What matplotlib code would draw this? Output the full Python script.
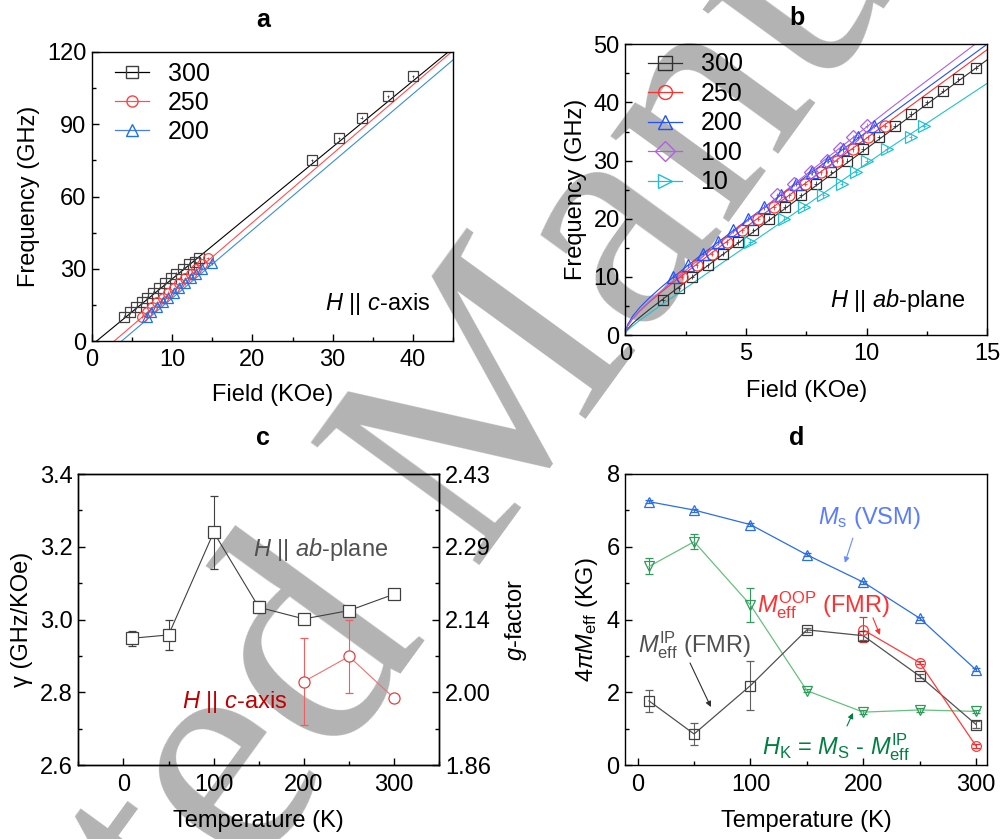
import matplotlib
matplotlib.use('Agg')
import matplotlib.pyplot as plt
from matplotlib.ticker import MultipleLocator

plt.rcParams['font.family'] = ['Liberation Sans', 'DejaVu Sans']
plt.rcParams['mathtext.fontset'] = 'custom'
plt.rcParams['mathtext.rm'] = 'Liberation Sans'
plt.rcParams['mathtext.it'] = 'Liberation Sans:italic'
plt.rcParams['mathtext.bf'] = 'Liberation Sans:bold'
plt.rcParams['axes.linewidth'] = 1.0

# ---- panel a : H || c-axis, f vs H ----
a_labels = ['300', '250', '200']
a_x300 = [4.0, 4.7, 5.5, 6.2, 6.9, 7.6, 8.4, 9.1, 9.8, 10.5, 11.3, 12.1, 12.9, 13.4, 27.4, 30.8, 33.6, 36.9, 40.0]
a_y300 = [10, 12, 14, 16, 18, 20, 22, 24, 26, 28, 30, 32, 33, 34.3, 75.1, 84.1, 92.8, 101.6, 109.9]
a_x250 = [6.2, 6.9, 7.5, 8.1, 8.8, 9.5, 10.2, 10.9, 11.6, 12.3, 13.0, 13.7, 14.4]
a_y250 = [10, 12, 14, 16, 18, 20, 22, 24, 26, 28, 30, 32, 34.3]
a_x200 = [6.8, 7.4, 8.1, 8.8, 9.5, 10.2, 10.9, 11.6, 12.3, 13.0, 13.7, 14.9]
a_y200 = [10, 12, 14, 16, 18, 20, 22, 24, 26, 28, 30, 32.2]
a_fitx = [[0.58, 44.4], [2.78, 44.8], [3.7, 45.0]]
a_fity = [[0, 120], [0, 120], [0, 116.7]]

# ---- panel b : H || ab-plane ----
b_labels = ['300', '250', '200', '100', '10']
b_x300 = [1.57, 2.21, 2.78, 3.41, 4.03, 4.67, 5.30, 5.97, 6.62, 7.27, 7.90, 8.54, 9.20, 9.83, 10.5, 11.17, 11.84, 12.49, 13.15, 13.80, 14.53]
b_y300 = [6, 8, 10, 12, 14, 16, 18, 20, 22, 24, 26, 28, 30, 32, 34, 36, 38, 40, 42, 44, 46]
b_x250 = [2.33, 2.96, 3.58, 4.20, 4.85, 5.51, 6.16, 6.80, 7.44, 8.09, 8.76, 9.42, 10.04, 10.76]
b_y250 = [10, 12, 14, 16, 18, 20, 22, 24, 26, 28, 30, 32, 34, 36]
b_x200 = [1.99, 2.58, 3.20, 3.83, 4.48, 5.10, 5.75, 6.45, 7.07, 7.75, 8.41, 9.03, 9.65, 10.30]
b_y200 = [10, 12, 14, 16, 18, 20, 22, 24, 26, 28, 30, 32, 34, 36]
b_x100 = [6.3, 7.0, 7.7, 8.35, 8.9, 9.45, 10.0]
b_y100 = [24, 26, 28, 30, 32, 34, 36]
b_x10 = [5.17, 6.59, 7.40, 8.20, 8.96, 9.56, 10.0, 10.83, 11.82, 12.38]
b_y10 = [16, 20, 22, 24, 26, 28, 30, 32, 34, 36]
b_fitx = [0, 0.1, 0.3, 0.6, 1, 1.5, 2, 3, 5, 8, 11, 15]
b_fit300 = [0.4, 1.04, 1.96, 3.05, 4.39, 5.99, 7.56, 10.66, 16.8, 25.98, 35.14, 47.35]
b_fit250 = [0.4, 1.55, 2.78, 4.13, 5.67, 7.42, 9.09, 12.31, 18.56, 27.77, 36.92, 49.09]
b_fit200 = [0.4, 1.81, 3.22, 4.73, 6.40, 8.26, 9.99, 13.30, 19.62, 28.84, 37.95, 50.04]
b_fit100 = [0.4, 1.55, 2.81, 4.20, 5.80, 7.63, 9.39, 12.80, 19.44, 29.27, 39.04, 51.6]
b_fit10 = [0.4, 0.81, 1.56, 2.52, 3.72, 5.18, 6.62, 9.50, 15.21, 23.78, 32.33, 43.3]

# ---- panel c : gamma vs T ----
c_T_ab = [10, 50, 100, 150, 200, 250, 300]
c_g_ab = [2.949, 2.958, 3.240, 3.034, 3.002, 3.025, 3.070]
c_e_ab = [0.02, 0.04, 0.10, 0.016, 0.01, 0.008, 0.008]
c_T_c = [200, 250, 300]
c_g_c = [2.830, 2.899, 2.784]
c_e_c = [0.12, 0.10, 0.0]
c_right_ticks = ['1.86', '2.00', '2.14', '2.29', '2.43']

# ---- panel d : 4piM vs T ----
d_T = [10, 50, 100, 150, 200, 250, 300]
d_Ms = [7.24, 7.01, 6.61, 5.78, 5.03, 4.04, 2.62]
d_Hk = [5.46, 6.14, 4.40, 2.05, 1.46, 1.52, 1.48]
d_Hk_err = [0.22, 0.2, 0.47, 0.05, 0.05, 0.05, 0.05]
d_Mip = [1.77, 0.86, 2.19, 3.72, 3.56, 2.45, 1.12]
d_Mip_err = [0.3, 0.3, 0.67, 0.05, 0.12, 0.05, 0.1]
d_T_oop = [200, 250, 300]
d_Moop = [3.72, 2.82, 0.53]
d_Moop_err = [0.34, 0.05, 0.05]

W, H = 1003, 839
fig = plt.figure(figsize=(W / 100, H / 100), dpi=100)

# watermark behind everything
fig.text(462 / W, 1 - 458 / H, 'Accepted Manuscript', fontfamily='Liberation Serif', fontsize=230,
         color='#b3b3b3', rotation=54, ha='center', va='center', rotation_mode='anchor', zorder=-10)


def box(l, t, r, b):
    return [l / W, 1 - b / H, (r - l) / W, (b - t) / H]


def style(ax):
    ax.set_facecolor('none')
    ax.tick_params(which='both', direction='in', top=False, right=False, labelsize=17, width=1)
    ax.tick_params(which='major', length=5)
    ax.tick_params(which='minor', length=3)
    ax.tick_params(axis='x', pad=6)
    ax.tick_params(axis='y', pad=4)


# panel a
ax = fig.add_axes(box(92, 52, 453, 341))
style(ax)
a_cols = ['#000000', '#ff5050', '#3a8fd6']
a_mcol = ['#404040', '#ff4040', '#2070e8']
a_mk = ['s', 'o', '^']
for xs, ys, fx, fy, lc, mc, mk, lab in zip([a_x300, a_x250, a_x200], [a_y300, a_y250, a_y200],
                                          a_fitx, a_fity, a_cols, a_mcol, a_mk, a_labels):
    ax.plot(fx, fy, color=lc, lw=0.8)
    ax.errorbar(xs, ys, xerr=0.15, yerr=0.6, fmt=mk, mfc='none', mec=mc, ms=7, mew=0.9,
                ecolor=mc, elinewidth=0.6)
    ax.plot([], [], color=lc if lab != '200' else '#4a7ee0', marker=mk, mfc='none', mec=mc,
            ms=8, lw=0.9, label=lab)
ax.set_xlim(0, 45)
ax.set_ylim(0, 120)
ax.xaxis.set_major_locator(MultipleLocator(10))
ax.xaxis.set_minor_locator(MultipleLocator(5))
ax.yaxis.set_major_locator(MultipleLocator(30))
ax.yaxis.set_minor_locator(MultipleLocator(15))
ax.legend(loc='upper left', bbox_to_anchor=(0.064, 0.966), borderaxespad=0, borderpad=0,
          frameon=False, fontsize=18, handlelength=1.35, handletextpad=0.75, labelspacing=0.2)
ax.text(0.645, 0.128, r'$H$ || $c$-axis', transform=ax.transAxes, fontsize=17, va='center')
ax.set_xlabel('Field (KOe)', fontsize=17)
ax.set_ylabel('Frequency (GHz)', fontsize=17)
ax.xaxis.set_label_coords(0.5, -0.15)
ax.yaxis.set_label_coords(-0.144, 0.5)

# panel b
ax = fig.add_axes(box(625.3, 44.3, 987.3, 335))
style(ax)
b_cols = ['#303030', '#ff3030', '#2050ff', '#b060e0', '#20c0d0']
b_mk = ['s', 'o', '^', 'D', '>']
b_ms = [7, 8, 8, 7, 8]
b_xs = [b_x300, b_x250, b_x200, b_x100, b_x10]
b_ys = [b_y300, b_y250, b_y200, b_y100, b_y10]
b_fits = [b_fit300, b_fit250, b_fit200, b_fit100, b_fit10]
for xs, ys, fy, c, mk, ms, lab in zip(b_xs, b_ys, b_fits, b_cols, b_mk, b_ms, b_labels):
    ax.plot(b_fitx, fy, color=c, lw=0.8)
    ax.errorbar(xs, ys, xerr=0.07, yerr=0.45, fmt=mk, mfc='none', mec=c, ms=ms, mew=0.9,
                ecolor=c, elinewidth=0.6)
    ax.plot([], [], color=c, marker=mk, mfc='none', mec=c, ms=10, lw=0.9, label=lab)
ax.set_xlim(0, 15)
ax.set_ylim(0, 50)
ax.xaxis.set_major_locator(MultipleLocator(5))
ax.xaxis.set_minor_locator(MultipleLocator(2.5))
ax.yaxis.set_major_locator(MultipleLocator(10))
ax.yaxis.set_minor_locator(MultipleLocator(5))
ax.legend(loc='upper left', bbox_to_anchor=(0.063, 0.972), borderaxespad=0, borderpad=0,
          frameon=False, fontsize=18, handlelength=1.35, handletextpad=0.75, labelspacing=0.22)
ax.text(0.565, 0.12, r'$H$ || $ab$-plane', transform=ax.transAxes, fontsize=17, va='center')
ax.set_xlabel('Field (KOe)', fontsize=17)
ax.set_ylabel('Frequency (GHz)', fontsize=17)
ax.xaxis.set_label_coords(0.5, -0.155)
ax.yaxis.set_label_coords(-0.106, 0.5)

# panel c
ax = fig.add_axes(box(78.3, 474, 439.3, 765.3))
style(ax)
ax.errorbar(c_T_ab, c_g_ab, yerr=c_e_ab, fmt='-s', color='#404040', lw=0.8, mfc='white',
            mec='#404040', ms=8, mew=0.9, elinewidth=0.8, capsize=3, capthick=0.8)
ax.errorbar(c_T_c, c_g_c, yerr=c_e_c, fmt='-o', color='#f07070', lw=0.8, mfc='white',
            mec='#e04040', ms=8, mew=0.9, ecolor='#f06060', elinewidth=0.8, capsize=3, capthick=0.8)
ax.set_xlim(-50, 350)
ax.set_ylim(2.6, 3.4)
ax.xaxis.set_major_locator(MultipleLocator(100))
ax.xaxis.set_minor_locator(MultipleLocator(50))
ax.yaxis.set_major_locator(MultipleLocator(0.2))
ax.yaxis.set_minor_locator(MultipleLocator(0.1))
ax.yaxis.set_major_formatter(matplotlib.ticker.FormatStrFormatter('%.1f'))
ax.text(0.484, 0.742, r'$H$ || $ab$-plane', transform=ax.transAxes, fontsize=17,
        va='center', color='#505050')
ax.text(0.287, 0.217, r'$H$ || $c$-axis', transform=ax.transAxes, fontsize=17,
        va='center', color='#c00000')
ax.set_xlabel('Temperature (K)', fontsize=17)
ax.set_ylabel('γ (GHz/KOe)', fontsize=17)
ax.xaxis.set_label_coords(0.5, -0.153)
ax.yaxis.set_label_coords(-0.125, 0.5)
axr = ax.twinx()
axr.set_ylim(2.6, 3.4)
axr.set_yticks([2.6, 2.8, 3.0, 3.2, 3.4])
axr.set_yticklabels(c_right_ticks)
axr.yaxis.set_minor_locator(MultipleLocator(0.1))
axr.tick_params(which='both', direction='in', labelsize=17, width=1, pad=4)
axr.tick_params(which='major', length=5)
axr.tick_params(which='minor', length=3)
axr.set_ylabel(r'$g$-factor', fontsize=17)
axr.yaxis.set_label_coords(1.176, 0.5)

# panel d
ax = fig.add_axes(box(625.3, 474, 987.3, 765.3))
style(ax)
kw = dict(lw=0.9, mfc='none', ms=7, mew=0.9, elinewidth=0.8, capsize=3, capthick=0.8)
ax.errorbar(d_T, d_Ms, yerr=0.04, fmt='-^', color='#2a6ee8', mec='#2a6ee8', **kw)
ax.errorbar(d_T, d_Hk, yerr=d_Hk_err, fmt='-v', color='#66c080', mec='#2f9a5a',
            ecolor='#2f9a5a', **kw)
ax.errorbar(d_T, d_Mip, yerr=d_Mip_err, fmt='-s', color='#505050', mec='#404040',
            ecolor='#606060', **kw)
ax.errorbar(d_T_oop, d_Moop, yerr=d_Moop_err, fmt='-o', color='#ff3a3a', mec='#ff3a3a',
            ecolor='#e03030', **kw)
ax.set_xlim(-11, 310)
ax.set_ylim(0, 8)
ax.xaxis.set_major_locator(MultipleLocator(100))
ax.xaxis.set_minor_locator(MultipleLocator(50))
ax.yaxis.set_major_locator(MultipleLocator(2))
ax.yaxis.set_minor_locator(MultipleLocator(1))
arr = dict(arrowstyle='-|>', lw=0.8, mutation_scale=8, shrinkA=0, shrinkB=0)
ax.annotate('', xy=(183.7, 5.56), xytext=(190.8, 6.24), arrowprops=dict(color='#6a8cff', **arr))
ax.text(159.9, 6.79, r'$M_{\mathrm{s}}$ (VSM)', fontsize=17, color='#5a7cff', va='center')
ax.annotate('', xy=(214.8, 3.58), xytext=(208.6, 4.05), arrowprops=dict(color='#ff3030', **arr))
ax.text(105.9, 4.40, r'$M_{\mathrm{eff}}^{\mathrm{OOP}}$ (FMR)', fontsize=17, color='#ff3030',
        va='center')
ax.annotate('', xy=(64.9, 1.60), xytext=(46.4, 2.81), arrowprops=dict(color='#303030', **arr))
ax.text(0.3, 3.30, r'$M_{\mathrm{eff}}^{\mathrm{IP}}$ (FMR)', fontsize=17, color='#505050',
        va='center')
ax.annotate('', xy=(190.9, 1.44), xytext=(185.6, 1.08), arrowprops=dict(color='#008040', **arr))
ax.text(110.2, 0.50, r'$H_{\mathrm{K}}$ = $M_{\mathrm{S}}$ - $M_{\mathrm{eff}}^{\mathrm{IP}}$',
        fontsize=17, color='#008040', va='center')
ax.set_xlabel('Temperature (K)', fontsize=17)
ax.set_ylabel(r'$4\pi M_{\mathrm{eff}}$ (KG)', fontsize=17)
ax.xaxis.set_label_coords(0.5, -0.153)
ax.yaxis.set_label_coords(-0.07, 0.5)

# panel letters
for lx, ly, s in [(263, 27, 'a'), (797, 25, 'b'), (263, 445, 'c'), (797, 445, 'd')]:
    fig.text(lx / W, 1 - ly / H, s, fontsize=18, fontweight='bold', ha='center', va='baseline')

fig.savefig('out.png', dpi=100)
